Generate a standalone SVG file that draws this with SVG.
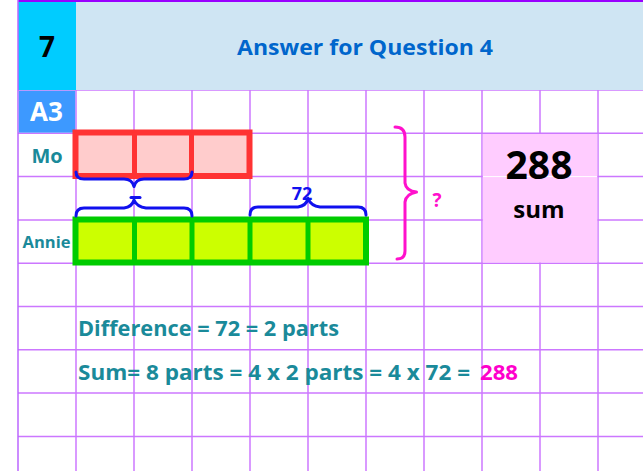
<svg xmlns="http://www.w3.org/2000/svg" width="643" height="471" viewBox="0 0 643 471">
<style>
.grid line{stroke:#cc77ff;stroke-width:1.5}
.lbl{font-family:"Open Sans","Liberation Sans",sans-serif;font-weight:bold}
.teal{fill:#1a8a9a}
.brace{fill:none;stroke:#1010ee;stroke-width:3;stroke-linecap:round;stroke-linejoin:round}
.bar-mo{fill:#ffcccc;stroke:#ff3333;stroke-width:6}
.bar-an{fill:#ccff00;stroke:#00cc00;stroke-width:6}
</style>
<rect width="643" height="471" fill="#ffffff"/>
<g id="grid" class="grid">
<line x1="76" y1="90" x2="76" y2="471"/>
<line x1="134" y1="90" x2="134" y2="471"/>
<line x1="192" y1="90" x2="192" y2="471"/>
<line x1="250" y1="90" x2="250" y2="471"/>
<line x1="308" y1="90" x2="308" y2="471"/>
<line x1="366" y1="90" x2="366" y2="471"/>
<line x1="424" y1="90" x2="424" y2="471"/>
<line x1="482" y1="90" x2="482" y2="471"/>
<line x1="540" y1="90" x2="540" y2="471"/>
<line x1="598" y1="90" x2="598" y2="471"/>
<line x1="18" y1="90" x2="643" y2="90"/>
<line x1="18" y1="133.3" x2="643" y2="133.3"/>
<line x1="18" y1="176.6" x2="643" y2="176.6"/>
<line x1="18" y1="219.9" x2="643" y2="219.9"/>
<line x1="18" y1="263.2" x2="643" y2="263.2"/>
<line x1="18" y1="306.5" x2="643" y2="306.5"/>
<line x1="18" y1="349.8" x2="643" y2="349.8"/>
<line x1="18" y1="393.1" x2="643" y2="393.1"/>
<line x1="18" y1="436.4" x2="643" y2="436.4"/>
</g>
<g id="header">
<rect x="76" y="0" width="567" height="90" fill="#cfe5f3"/>
<rect x="18" y="0" width="58" height="90" fill="#00ccff"/>
<line x1="18" y1="1" x2="643" y2="1" stroke="#9900ff" stroke-width="2"/>
<text class="lbl" x="47" y="57" font-size="28" text-anchor="middle" fill="#000">7</text>
<text class="lbl" x="365" y="55" font-size="21" text-anchor="middle" fill="#0066cc" textLength="256" lengthAdjust="spacingAndGlyphs">Answer for Question 4</text>
</g>
<line x1="18" y1="0" x2="18" y2="471" stroke="#bb66ff" stroke-width="1.5"/>
<g id="a3">
<rect x="18.8" y="90.8" width="56.4" height="41.8" fill="#3d99ff"/>
<text class="lbl" x="46.5" y="121" font-size="26" text-anchor="middle" fill="#fff">A3</text>
</g>
<g id="mo">
<text class="lbl teal" x="47" y="163" font-size="20" text-anchor="middle">Mo</text>
<rect class="bar-mo" x="75.5" y="132.5" width="174" height="43.5"/>
<line x1="134.5" y1="132.5" x2="134.5" y2="176" stroke="#ff3333" stroke-width="5"/>
<line x1="191.5" y1="132.5" x2="191.5" y2="176" stroke="#ff3333" stroke-width="5"/>
</g>
<g id="annie">
<text class="lbl teal" x="46.5" y="248" font-size="16.5" text-anchor="middle">Annie</text>
<rect class="bar-an" x="75.5" y="219.5" width="290.5" height="43"/>
<line x1="134.5" y1="219.5" x2="134.5" y2="262.5" stroke="#00cc00" stroke-width="5"/>
<line x1="192" y1="219.5" x2="192" y2="262.5" stroke="#00cc00" stroke-width="5"/>
<line x1="250" y1="219.5" x2="250" y2="262.5" stroke="#00cc00" stroke-width="5"/>
<line x1="308" y1="219.5" x2="308" y2="262.5" stroke="#00cc00" stroke-width="5"/>
</g>
<g id="sum">
<rect x="482.8" y="134" width="114.5" height="128.5" fill="#ffccff"/>
<line x1="483" y1="176.6" x2="597" y2="176.6" stroke="#ffffff" stroke-width="1"/>
<text class="lbl" x="539" y="179" font-size="39" text-anchor="middle" fill="#000">288</text>
<text class="lbl" x="539" y="218" font-size="24" text-anchor="middle" fill="#000">sum</text>
</g>
<g id="connectors">
<path class="brace" d="M76,172 Q76,179 84,179 L124,179 Q132,179 134,186.5 Q136,179 144,179 L184,179 Q192,179 192,172"/>
<path class="brace" d="M76,216 Q76,208 84,208 L124,208 Q132,207 134,200 Q137,207 146,208 L184,208 Q192,208 192,216"/>
<path class="brace" d="M131,197.5 L140,197.5"/>
<path class="brace" d="M250,215 Q250,207 258,207 L298,207 Q306,206 308,198.5 Q311,206 320,207 L358,207 Q366,207 366,215"/>
<path d="M395,127 Q405,127 405,137 L405,183 Q406,191 416.5,192 Q406,194 405,202 L405,251 Q405,259 397,259" fill="none" stroke="#ff11cc" stroke-width="3" stroke-linecap="round" stroke-linejoin="round"/>
</g>
<g id="labels">
<text class="lbl" x="302" y="200" font-size="18" text-anchor="middle" fill="#1010ee">72</text>
<text class="lbl" x="437" y="207" font-size="19" text-anchor="middle" fill="#ff11cc">?</text>
</g>
<g id="equations">
<text class="lbl teal" x="78" y="336" font-size="21" textLength="261" lengthAdjust="spacingAndGlyphs">Difference = 72 = 2 parts</text>
<text class="lbl teal" x="78" y="380" font-size="21" textLength="392" lengthAdjust="spacingAndGlyphs">Sum= 8 parts = 4 x 2 parts = 4 x 72 =</text>
<text class="lbl" x="480" y="380" font-size="21" fill="#ff00cc" textLength="38" lengthAdjust="spacingAndGlyphs">288</text>
</g>
</svg>
